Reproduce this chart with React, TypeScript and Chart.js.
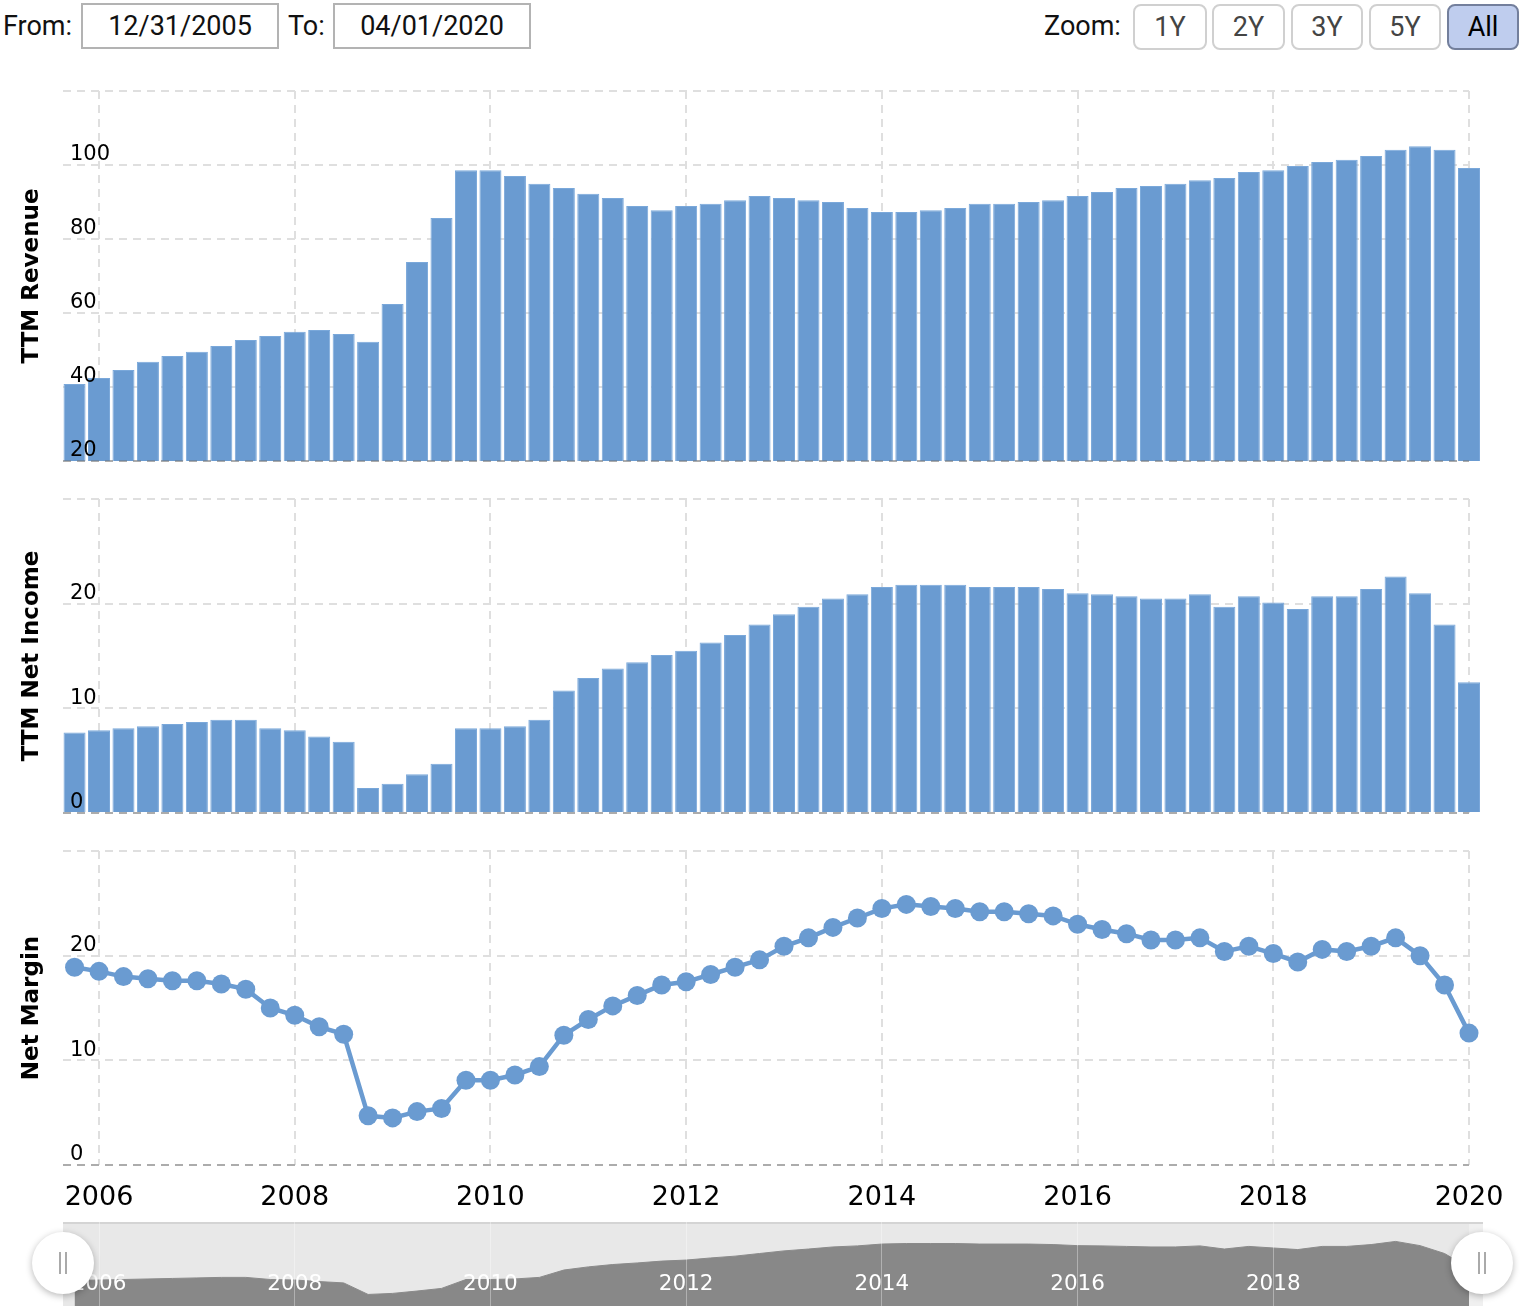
import React, { useEffect, useRef } from 'react';
import { Chart, registerables } from 'chart.js';

Chart.register(...registerables);

// ---------------- data ----------------
const quarters = [
  '2005-09', '2005-12', '2006-03', '2006-06', '2006-09', '2006-12', '2007-03', '2007-06', '2007-09', '2007-12',
  '2008-03', '2008-06', '2008-09', '2008-12', '2009-03', '2009-06', '2009-09', '2009-12', '2010-03', '2010-06',
  '2010-09', '2010-12', '2011-03', '2011-06', '2011-09', '2011-12', '2012-03', '2012-06', '2012-09', '2012-12',
  '2013-03', '2013-06', '2013-09', '2013-12', '2014-03', '2014-06', '2014-09', '2014-12', '2015-03', '2015-06',
  '2015-09', '2015-12', '2016-03', '2016-06', '2016-09', '2016-12', '2017-03', '2017-06', '2017-09', '2017-12',
  '2018-03', '2018-06', '2018-09', '2018-12', '2019-03', '2019-06', '2019-09', '2019-12',
];

const ttmRevenue = [
  40.8, 42.4, 44.6, 46.8, 48.4, 49.5, 51.1, 52.7, 53.8, 54.9,
  55.4, 54.3, 52.2, 62.4, 73.8, 85.7, 98.6, 98.6, 97.0, 94.9,
  93.8, 92.2, 91.1, 88.9, 87.8, 88.9, 89.5, 90.5, 91.6, 91.1,
  90.5, 90.0, 88.4, 87.3, 87.3, 87.8, 88.4, 89.5, 89.5, 90.0,
  90.5, 91.6, 92.7, 93.8, 94.3, 94.9, 95.9, 96.5, 98.1, 98.6,
  99.7, 100.8, 101.4, 102.4, 104.1, 105.1, 104.1, 99.2,
];

const ttmNetIncome = [
  7.7, 7.9, 8.1, 8.3, 8.5, 8.7, 8.9, 8.9, 8.1, 7.9,
  7.3, 6.8, 2.4, 2.8, 3.7, 4.7, 8.1, 8.1, 8.3, 8.9,
  11.7, 12.9, 13.8, 14.4, 15.1, 15.5, 16.3, 17.0, 18.0, 19.0,
  19.7, 20.5, 20.9, 21.6, 21.8, 21.8, 21.8, 21.6, 21.6, 21.6,
  21.4, 21.0, 20.9, 20.7, 20.5, 20.5, 20.9, 19.7, 20.7, 20.1,
  19.5, 20.7, 20.7, 21.4, 22.6, 21.0, 18.0, 12.5,
];

const netMargin = [
  18.9, 18.5, 18.0, 17.8, 17.6, 17.6, 17.3, 16.8, 15.0, 14.3,
  13.2, 12.5, 4.7, 4.5, 5.1, 5.4, 8.1, 8.1, 8.6, 9.4,
  12.4, 13.9, 15.2, 16.2, 17.2, 17.5, 18.2, 18.9, 19.6, 20.9,
  21.7, 22.7, 23.6, 24.5, 24.9, 24.7, 24.5, 24.2, 24.2, 24.0,
  23.8, 23.0, 22.5, 22.1, 21.5, 21.5, 21.7, 20.4, 20.9, 20.2,
  19.4, 20.6, 20.4, 20.9, 21.7, 20.0, 17.2, 12.6,
];

const yearTicks = [2006, 2008, 2010, 2012, 2014, 2016, 2018, 2020];
const navigatorYears = [2006, 2008, 2010, 2012, 2014, 2016, 2018];
const zoomButtons = ['1Y', '2Y', '3Y', '5Y', 'All'];
const fromDate = '12/31/2005';
const toDate = '04/01/2020';

// ---------------- styling ----------------
const BLUE = '#6a9bd1';
const GRID = '#dfdfdf';
const BASELINE = 'rgba(110,110,110,0.45)';
const FONT = "'DejaVu Sans', Verdana, sans-serif";
const UI_FONT = "Roboto, 'Noto Sans', sans-serif";
const X_MIN = 2005.632;
const X_MAX = 2020;
const PAD_LEFT = 63;
const PAD_RIGHT = 55;

const toX = (q: string) => {
  const [y, m] = q.split('-').map(Number);
  return y + m / 12;
};
const points = (vals: number[]) => quarters.map((q, i) => ({ x: toX(q), y: vals[i] }));

const zeroPadding = (s: any) => {
  s.paddingTop = 0;
  s.paddingBottom = 0;
  s.paddingLeft = 0;
  s.paddingRight = 0;
};

function xScale(showLabels: boolean) {
  return {
    type: 'linear',
    min: X_MIN,
    max: X_MAX,
    offset: false,
    afterBuildTicks: (s: any) => {
      s.ticks = yearTicks.map((v) => ({ value: v }));
    },
    grid: { color: GRID, lineWidth: 2, drawTicks: false, offset: false },
    border: { display: false, dash: [8, 6] },
    ticks: {
      display: showLabels,
      padding: 17,
      autoSkip: false,
      maxRotation: 0,
      color: '#000',
      font: { family: FONT, size: 27 },
      callback: (v: any) => String(v),
    },
    afterFit: (s: any) => {
      s.height = showLabels ? 55 : 0;
      zeroPadding(s);
    },
  };
}

function yScales(min: number, max: number, step: number) {
  return {
    y: {
      type: 'linear',
      position: 'left',
      min,
      max,
      ticks: { display: false, stepSize: step },
      grid: { color: GRID, lineWidth: 2, drawTicks: false },
      border: { display: false, dash: [8, 6] },
      afterFit: (s: any) => {
        s.width = 0;
        zeroPadding(s);
      },
    },
    yl: {
      type: 'linear',
      position: 'left',
      display: true,
      min,
      max,
      ticks: {
        z: 1,
        stepSize: step,
        mirror: true,
        padding: 7,
        labelOffset: -10,
        color: '#000',
        font: { family: FONT, size: 21 },
        callback: (v: any) => (v === max ? '' : String(v)),
      },
      grid: {
        z: 1,
        color: (ctx: any) => (ctx.tick && ctx.tick.value === min ? BASELINE : 'rgba(0,0,0,0)'),
        lineWidth: 2,
        drawTicks: false,
      },
      border: { display: false, dash: [8, 6] },
      afterFit: (s: any) => {
        s.width = 0;
        zeroPadding(s);
      },
    },
  };
}

const commonOptions = (padTop: number, padBottom: number) => ({
  responsive: false,
  maintainAspectRatio: false,
  animation: false,
  events: [],
  layout: { padding: { left: PAD_LEFT, right: PAD_RIGHT, top: padTop, bottom: padBottom } },
  plugins: { legend: { display: false }, tooltip: { enabled: false } },
});

const navBackground = {
  id: 'navBackground',
  beforeDraw(chart: any) {
    const { ctx, chartArea } = chart;
    ctx.save();
    ctx.fillStyle = '#f0f0f0';
    ctx.fillRect(chartArea.right, chartArea.top, 14, chartArea.bottom - chartArea.top);
    ctx.fillStyle = '#e8e8e8';
    ctx.fillRect(chartArea.left, chartArea.top, chartArea.right - chartArea.left, chartArea.bottom - chartArea.top);
    ctx.strokeStyle = '#d4d4d4';
    ctx.lineWidth = 2;
    ctx.beginPath();
    ctx.moveTo(chartArea.left, chartArea.top + 1);
    ctx.lineTo(chartArea.right + 14, chartArea.top + 1);
    ctx.stroke();
    ctx.restore();
  },
  afterDraw(chart: any) {
    const { ctx, scales } = chart;
    ctx.save();
    ctx.fillStyle = '#ffffff';
    ctx.font = `21.5px ${FONT}`;
    ctx.textAlign = 'center';
    ctx.textBaseline = 'middle';
    navigatorYears.forEach((yr) => {
      ctx.fillText(String(yr), scales.x.getPixelForValue(yr), 62);
    });
    ctx.restore();
  },
};

export default function App() {
  const c1 = useRef<HTMLCanvasElement>(null);
  const c2 = useRef<HTMLCanvasElement>(null);
  const c3 = useRef<HTMLCanvasElement>(null);
  const c4 = useRef<HTMLCanvasElement>(null);

  useEffect(() => {
    const charts: Chart[] = [];
    const barDataset = (vals: number[]) => ({
      data: points(vals),
      backgroundColor: BLUE,
      borderColor: '#7aa8da',
      borderWidth: 1,
      barPercentage: 0.9,
      categoryPercentage: 1,
      clip: { left: 12, top: 12, right: 15, bottom: 0 },
      yAxisID: 'y',
    });

    charts.push(
      new Chart(c1.current!, {
        type: 'bar',
        data: { datasets: [barDataset(ttmRevenue) as any] },
        options: { ...commonOptions(11, 9), scales: { x: xScale(false), ...yScales(20, 120, 20) } } as any,
      })
    );
    charts.push(
      new Chart(c2.current!, {
        type: 'bar',
        data: { datasets: [barDataset(ttmNetIncome) as any] },
        options: { ...commonOptions(11, 10), scales: { x: xScale(false), ...yScales(0, 30, 10) } } as any,
      })
    );
    charts.push(
      new Chart(c3.current!, {
        type: 'line',
        data: {
          datasets: [
            {
              data: points(netMargin),
              borderColor: BLUE,
              borderWidth: 4.5,
              backgroundColor: BLUE,
              pointBackgroundColor: BLUE,
              pointBorderWidth: 0,
              pointRadius: 9.5,
              tension: 0,
              fill: false,
              clip: false,
              yAxisID: 'y',
            } as any,
          ],
        },
        options: { ...commonOptions(11, 0), scales: { x: xScale(true), ...yScales(0, 30, 10) } } as any,
      })
    );
    charts.push(
      new Chart(c4.current!, {
        type: 'line',
        data: {
          datasets: [
            {
              data: points(ttmNetIncome),
              borderColor: '#8a8a8a',
              borderWidth: 1,
              backgroundColor: '#888888',
              pointRadius: 0,
              tension: 0,
              fill: 'start',
            } as any,
          ],
        },
        options: {
          ...commonOptions(0, 0),
          scales: {
            x: {
              type: 'linear',
              min: X_MIN,
              max: X_MAX,
              afterBuildTicks: (s: any) => {
                s.ticks = navigatorYears.map((v) => ({ value: v }));
              },
              grid: { z: 1, color: 'rgba(255,255,255,0.35)', lineWidth: 1, drawTicks: false },
              border: { display: false },
              ticks: { display: false },
              afterFit: (s: any) => {
                s.height = 0;
                zeroPadding(s);
              },
            },
            y: { type: 'linear', display: false, min: -2, max: 30 },
          },
        } as any,
        plugins: [navBackground],
      })
    );
    return () => charts.forEach((c) => c.destroy());
  }, []);

  const box = (left: number, width: number, text: string) => (
    <div
      style={{
        position: 'absolute',
        left,
        top: 3,
        width,
        height: 46,
        boxSizing: 'border-box',
        border: '2px solid #b3b3b3',
        display: 'flex',
        alignItems: 'center',
        justifyContent: 'center',
        fontFamily: UI_FONT,
        fontSize: 27,
        color: '#111',
      }}
    >
      {text}
    </div>
  );

  const btnLefts = [1133, 1212, 1291, 1369, 1447];
  const btnWidths = [74, 73, 72, 72, 72];

  const label = (left: number, text: string) => (
    <div
      style={{
        position: 'absolute',
        left,
        top: 3,
        height: 46,
        display: 'flex',
        alignItems: 'center',
        fontFamily: UI_FONT,
        fontSize: 27,
        color: '#111',
      }}
    >
      {text}
    </div>
  );

  const yTitle = (centerY: number, text: string) => (
    <div
      style={{
        position: 'absolute',
        left: 30,
        top: centerY,
        transform: 'translate(-50%, -50%) rotate(-90deg)',
        whiteSpace: 'nowrap',
        fontFamily: FONT,
        fontWeight: 'bold',
        fontSize: 23,
        color: '#000',
      }}
    >
      {text}
    </div>
  );

  const handle = (cx: number) => (
    <div
      style={{
        position: 'absolute',
        left: cx - 31,
        top: 1232,
        width: 62,
        height: 62,
        borderRadius: '50%',
        background: '#fff',
        boxShadow: '0 2px 7px rgba(0,0,0,0.28)',
      }}
    >
      <div style={{ position: 'absolute', left: 27, top: 20, width: 2, height: 22, background: '#aaa' }} />
      <div style={{ position: 'absolute', left: 33, top: 20, width: 2, height: 22, background: '#aaa' }} />
    </div>
  );

  return (
    <div
      style={{
        position: 'absolute',
        left: 0,
        top: 0,
        width: 1524,
        height: 1306,
        overflow: 'hidden',
        background: '#fff',
      }}
    >
      {label(3, 'From:')}
      {box(81, 198, fromDate)}
      {label(288, 'To:')}
      {box(333, 198, toDate)}
      {label(1044, 'Zoom:')}
      {zoomButtons.map((b, i) => {
        const active = b === 'All';
        return (
          <div
            key={b}
            style={{
              position: 'absolute',
              left: btnLefts[i],
              top: 4,
              width: btnWidths[i],
              height: 46,
              boxSizing: 'border-box',
              border: active ? '2px solid #737f9c' : '2px solid #d0d0d0',
              borderRadius: 8,
              background: active ? '#bfcdee' : '#fff',
              display: 'flex',
              alignItems: 'center',
              justifyContent: 'center',
              fontFamily: UI_FONT,
              fontSize: 27,
              color: active ? '#000' : '#444',
            }}
          >
            {b}
          </div>
        );
      })}

      <canvas ref={c1} width={1524} height={390} style={{ position: 'absolute', left: 0, top: 80 }} />
      <canvas ref={c2} width={1524} height={335} style={{ position: 'absolute', left: 0, top: 488 }} />
      <canvas ref={c3} width={1524} height={380} style={{ position: 'absolute', left: 0, top: 840 }} />
      <canvas ref={c4} width={1524} height={84} style={{ position: 'absolute', left: 0, top: 1222 }} />

      {yTitle(276, 'TTM Revenue')}
      {yTitle(656, 'TTM Net Income')}
      {yTitle(1008, 'Net Margin')}

      {handle(63)}
      {handle(1482)}
    </div>
  );
}
